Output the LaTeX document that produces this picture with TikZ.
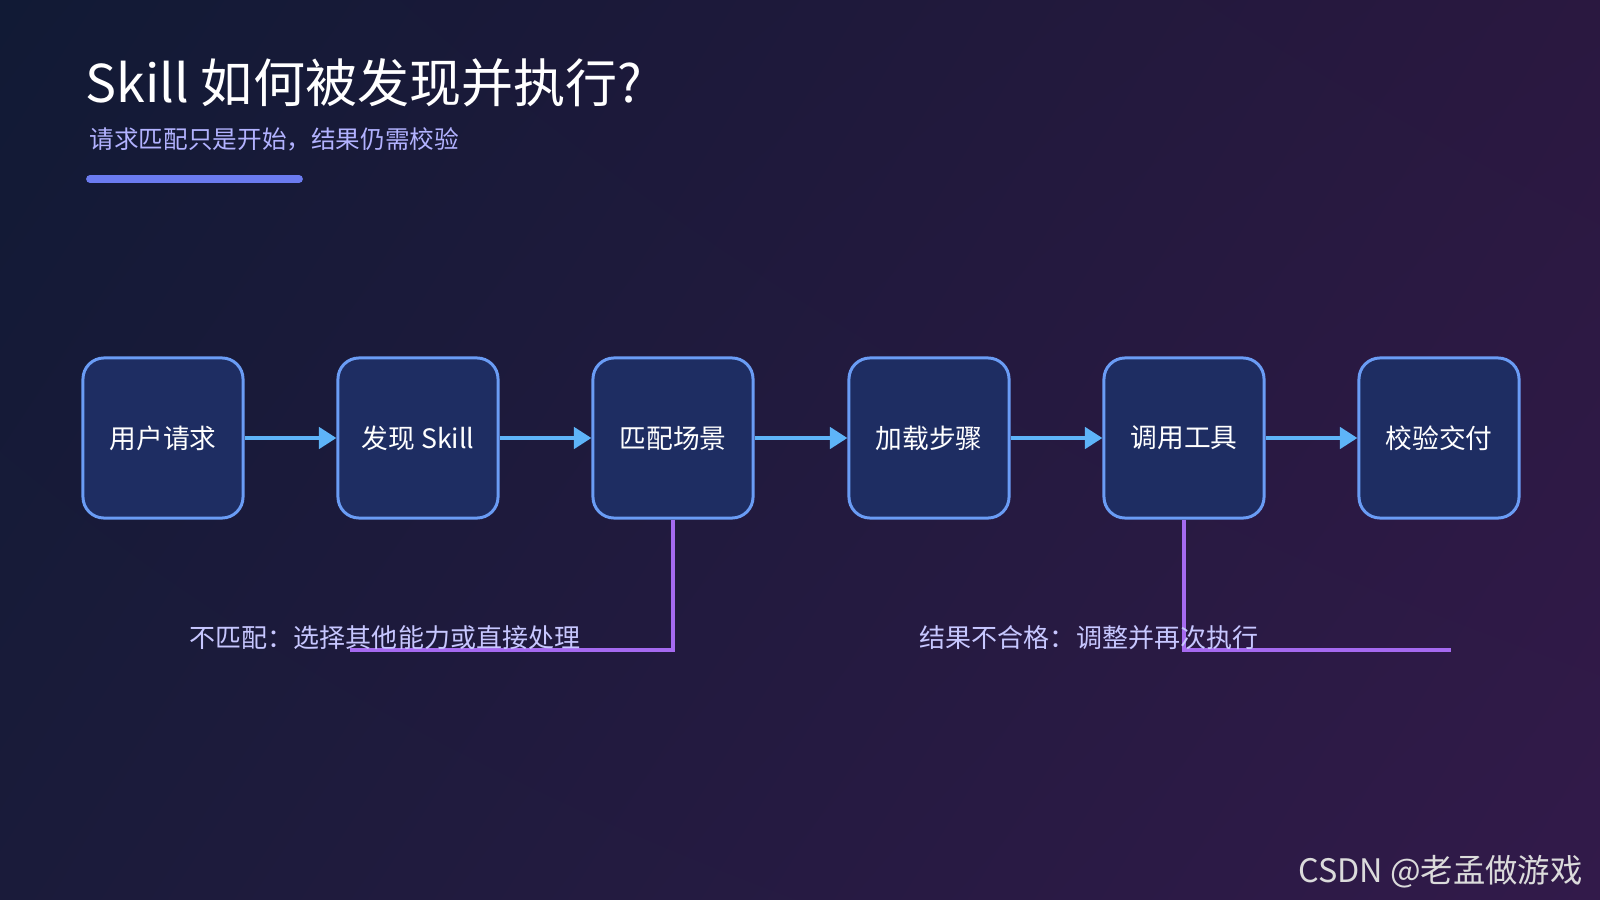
\documentclass[tikz,border=0pt]{standalone}
\usepackage{fontspec}
\setmainfont{Noto Sans CJK SC}
\usetikzlibrary{arrows.meta,shadings}
\definecolor{bgA}{HTML}{111A35}
\definecolor{bgB}{HTML}{2A1840}
\definecolor{bgC}{HTML}{1A1B3A}
\definecolor{bgD}{HTML}{321A4A}
\definecolor{boxfill}{HTML}{1E2D62}
\definecolor{boxline}{HTML}{6A9CF5}
\definecolor{flow}{HTML}{5EB4F8}
\definecolor{branch}{HTML}{A56AF0}
\definecolor{bar}{HTML}{6B7BF0}
\begin{document}
\begin{tikzpicture}
        [x=0.01cm, y=-0.01cm,
        stage/.style={draw=boxline, fill=boxfill, line width=0.85pt, rounded corners=6pt,
          minimum width=1.6cm, minimum height=1.6cm, text=white, font=\fontsize{7.6}{9}\selectfont},
        flowedge/.style={flow, line width=1.4pt, -{Triangle[length=5pt,width=6pt]}},
        branchedge/.style={branch, line width=1.2pt},
        note/.style={text=white!78!blue, font=\fontsize{7.4}{9}\selectfont}]

        % background
        \shade[upper left=bgA, upper right=bgB, lower left=bgC, lower right=bgD] (0,0) rectangle (1600,900);
        \useasboundingbox (0,0) rectangle (1600,900);

        % heading
        \node[anchor=base west, text=white, font=\fontsize{14.8}{18}\selectfont, inner sep=0] (title) at (85,102) {Skill 如何被发现并执行?};
        \node[anchor=base west, text=white!70!blue, font=\fontsize{7}{9}\selectfont, inner sep=0] (subtitle) at (89,148) {请求匹配只是开始，结果仍需校验};
        \draw[bar, line width=2.2pt, line cap=round] (90,179) -- (299,179);

        % stages
        \node[stage] (req) at (163,438) {用户请求};
        \node[stage] (find) at (418,438) {发现 Skill};
        \node[stage] (match) at (673,438) {匹配场景};
        \node[stage] (load) at (929,438) {加载步骤};
        \node[stage] (call) at (1184,438) {调用工具};
        \node[stage] (check) at (1439,438) {校验交付};

        % flow edges
        \draw[flowedge] (req) -- (find);
        \draw[flowedge] (find) -- (match);
        \draw[flowedge] (match) -- (load);
        \draw[flowedge] (load) -- (call);
        \draw[flowedge] (call) -- (check);

        % branches
        \coordinate (missend) at (350,650);
        \coordinate (failend) at (1451,650);
        \draw[branchedge] (match.south) |- (missend);
        \draw[branchedge] (call.south) |- (failend);
        \node[note] (miss) at (385,638) {不匹配：选择其他能力或直接处理};
        \node[note] (fail) at (1089,638) {结果不合格：调整并再次执行};

        % watermark
        \node[anchor=base east, text=white!72!gray, font=\fontsize{9.2}{11}\selectfont] (mark) at (1595,882) {CSDN @老孟做游戏};
\end{tikzpicture}
\end{document}
